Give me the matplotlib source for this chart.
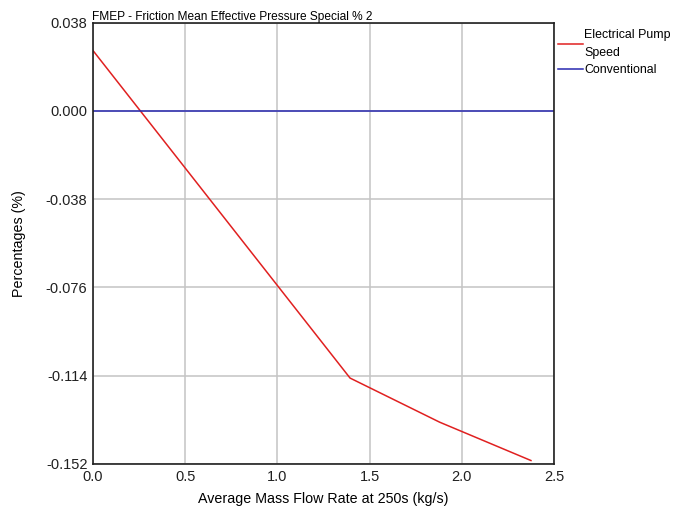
import matplotlib
matplotlib.use("Agg")
import matplotlib.pyplot as plt

# data
pump_x = [0.0, 1.394, 1.88, 2.375]
pump_y = [0.026, -0.115, -0.134, -0.1505]
conv_x = [0.0, 2.5]
conv_y = [0.0, 0.0]
x_ticks = [0.0, 0.5, 1.0, 1.5, 2.0, 2.5]
y_ticks = [0.038, 0.000, -0.038, -0.076, -0.114, -0.152]

plt.rcParams["font.family"] = ["Liberation Sans", "DejaVu Sans"]

fig = plt.figure(figsize=(6.79, 5.13), dpi=100)
ax = fig.add_axes([93 / 679, 1 - 464 / 513, (554 - 93) / 679, (464 - 22.7) / 513])

ax.plot(pump_x, pump_y, color="#e02020", lw=1.1, label="Electrical Pump\nSpeed")
ax.plot(conv_x, conv_y, color="#2828b0", lw=1.1, label="Conventional")

ax.set_xlim(0, 2.5)
ax.set_ylim(-0.152, 0.038)
ax.set_xticks(x_ticks)
ax.set_xticklabels([f"{v:.1f}" for v in x_ticks])
ax.set_yticks(y_ticks)
ax.set_yticklabels([f"{v:.3f}" for v in y_ticks])
ax.tick_params(length=0, labelsize=10.5, pad=4, colors="#202020")
ax.grid(True, color="#c4c4c4", lw=1.1)
ax.set_axisbelow(True)
for s in ax.spines.values():
    s.set_color("#202020")
    s.set_linewidth(1.2)

ax.set_xlabel("Average Mass Flow Rate at 250s (kg/s)", fontsize=10.3, labelpad=6)
ax.set_ylabel("Percentages (%)", fontsize=10.3, labelpad=14)
ax.set_title("FMEP - Friction Mean Effective Pressure Special % 2",
             loc="left", fontsize=8.6, pad=1.5, x=-0.003)

leg = ax.legend(loc="upper left", bbox_to_anchor=(0.995, 1.0), frameon=False,
                fontsize=8.9, handlelength=2.0, handletextpad=0.1,
                borderaxespad=0.15, labelspacing=0.45)
for t in leg.get_texts():
    t.set_linespacing(1.6)

fig.savefig("out.png", dpi=100)
